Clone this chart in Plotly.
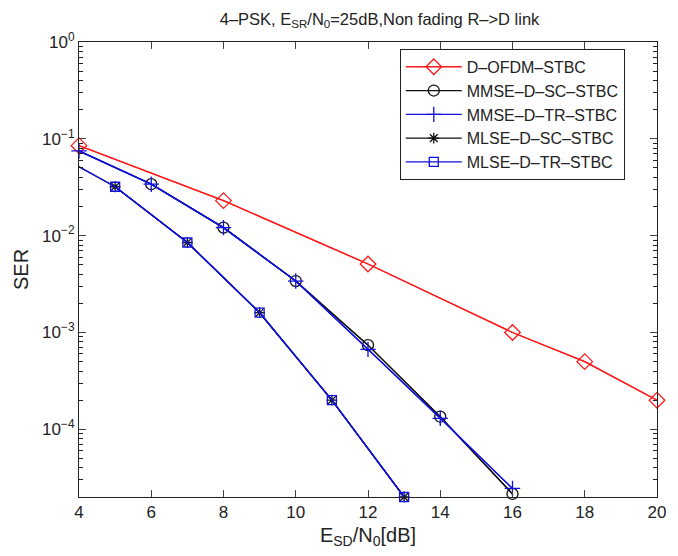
import numpy as np
import plotly.graph_objects as go

# ---- data ----
snr_ofdm = [4, 8, 12, 16, 18, 20]
ser_ofdm = [0.085, 0.023, 0.0051, 0.001, 0.0005, 0.0002]

snr_mmse_sc = [2, 6, 8, 10, 12, 14, 16]
ser_mmse_sc = [0.165, 0.034, 0.0121, 0.0034, 0.00074, 0.000135, 0.0000215]

snr_mmse_tr = [4, 6, 8, 10, 12, 14, 16]
ser_mmse_tr = [0.075, 0.034, 0.0121, 0.0034, 0.00067, 0.00013, 0.0000245]

snr_mlse = [3, 5, 7, 9, 11, 13]
ser_mlse_sc = [0.083, 0.032, 0.0085, 0.0016, 0.0002, 0.00002]
ser_mlse_tr = [0.083, 0.032, 0.0085, 0.0016, 0.0002, 0.00002]

x_ticks = [4, 6, 8, 10, 12, 14, 16, 18, 20]
y_tick_vals = [1, 0.1, 0.01, 0.001, 0.0001]
y_tick_text = ["10<sup>0</sup>", "10<sup>−1</sup>", "10<sup>−2</sup>",
               "10<sup>−3</sup>", "10<sup>−4</sup>"]

X_MIN, X_MAX = 4, 20
Y_MIN, Y_MAX = 2e-5, 1

FONT = "Liberation Sans, Arial, Helvetica, sans-serif"

series = [
    ("D–OFDM–STBC", snr_ofdm, ser_ofdm, "#ff1a1a", "diamond-open", 12),
    ("MMSE–D–SC–STBC", snr_mmse_sc, ser_mmse_sc, "#111111", "circle-open", 11),
    ("MMSE–D–TR–STBC", snr_mmse_tr, ser_mmse_tr, "#1010e0", "cross-thin-open", 11),
    ("MLSE–D–SC–STBC", snr_mlse, ser_mlse_sc, "#111111", "asterisk-open", 9),
    ("MLSE–D–TR–STBC", snr_mlse, ser_mlse_tr, "#1010e0", "square-open", 9),
]

fig = go.Figure()
for name, xs, ys, color, sym, size in series:
    xs = np.asarray(xs, dtype=float)
    ys = np.asarray(ys, dtype=float)
    # full line (clipped to the axes, like MATLAB)
    fig.add_trace(go.Scatter(x=xs, y=ys, mode="lines", showlegend=False,
                             line=dict(color=color, width=1.3),
                             hoverinfo="skip"))
    inside = (xs >= X_MIN) & (xs <= X_MAX)
    fig.add_trace(go.Scatter(x=xs[inside], y=ys[inside], mode="lines+markers",
                             name=name, cliponaxis=False,
                             line=dict(color=color, width=1.3),
                             marker=dict(symbol=sym, size=size, color=color,
                                         line=dict(color=color, width=1.3))))

minor_vals = [m * 10.0 ** k for k in range(-5, 0) for m in range(2, 10)]

# page body adds an 8px offset, so the figure is 8px smaller than the window
fig.update_layout(
    width=670, height=548,
    margin=dict(l=70, r=20, t=34, b=59),
    paper_bgcolor="white", plot_bgcolor="white",
    font=dict(family=FONT, size=17, color="#222222"),
    title=dict(text="4–PSK, E<sub>SR</sub>/N<sub>0</sub>=25dB,Non fading R–>D link",
               x=0.52, xref="paper", xanchor="center", y=0.99, yanchor="top",
               font=dict(size=16.5)),
    legend=dict(x=0.555, y=0.985, xanchor="left", yanchor="top",
                bgcolor="white", bordercolor="#222222", borderwidth=1,
                font=dict(size=16), tracegroupgap=0, itemwidth=56),
    showlegend=True,
)

fig.update_xaxes(
    range=[X_MIN, X_MAX], tickvals=x_ticks, ticks="inside", ticklen=7,
    showline=True, linecolor="#222222", linewidth=1, mirror="allticks",
    showgrid=False, zeroline=False,
    title=dict(text="E<sub>SD</sub>/N<sub>0</sub>[dB]", standoff=6),
)
fig.update_yaxes(
    type="log", range=[np.log10(Y_MIN), np.log10(Y_MAX)],
    tickvals=y_tick_vals, ticktext=y_tick_text, ticks="inside", ticklen=7,
    showline=True, linecolor="#222222", linewidth=1, mirror="allticks",
    showgrid=False, zeroline=False,
    minor=dict(tickvals=minor_vals, ticks="inside", ticklen=4,
               tickcolor="#222222", showgrid=False),
    title=dict(text="SER", standoff=8),
)

fig.write_html("out.html")
